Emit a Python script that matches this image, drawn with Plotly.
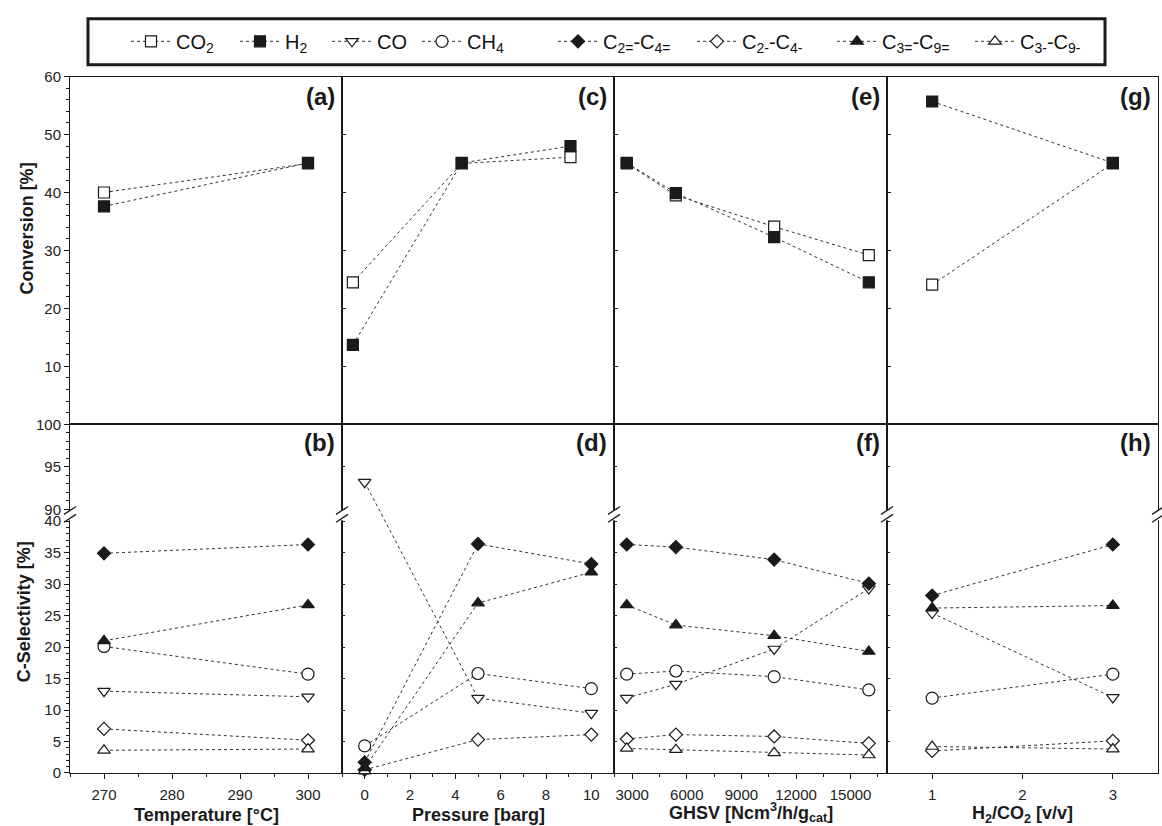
import plotly.graph_objects as go

W, H = 1162, 826
FONT = "Liberation Sans, Arial, Helvetica, sans-serif"

# ---------------- data ----------------
temperature = [270, 300]
pressure = [0, 5, 10]
ghsv = [2700, 5400, 10800, 16000]
ratio = [1, 3]

# conversion [%]
conv_CO2_T = [40.0, 45.0]
conv_H2_T = [37.6, 45.1]
conv_CO2_P = [24.5, 45.0, 46.1]
conv_H2_P = [13.7, 45.1, 48.0]
conv_CO2_G = [45.0, 39.5, 34.1, 29.2]
conv_H2_G = [45.1, 39.9, 32.3, 24.5]
conv_CO2_R = [24.1, 45.0]
conv_H2_R = [55.7, 45.1]

# C-selectivity [%]
sel_CO_T = [13.0, 12.1]
sel_CH4_T = [20.1, 15.7]
sel_C2o_T = [34.9, 36.3]
sel_C2p_T = [7.0, 5.2]
sel_C3o_T = [21.0, 26.7]
sel_C3p_T = [3.6, 3.8]

sel_CO_P = [93.2, 11.9, 9.5]
sel_CH4_P = [4.3, 15.8, 13.4]
sel_C2o_P = [1.7, 36.4, 33.2]
sel_C2p_P = [0.5, 5.3, 6.1]
sel_C3o_P = [0.8, 27.0, 31.9]
sel_C3p_P = [0.3, None, None]

sel_CO_G = [11.9, 14.1, 19.7, 29.3]
sel_CH4_G = [15.7, 16.2, 15.3, 13.2]
sel_C2o_G = [36.3, 35.9, 33.9, 30.1]
sel_C2p_G = [5.4, 6.1, 5.8, 4.7]
sel_C3o_G = [26.7, 23.5, 21.8, 19.3]
sel_C3p_G = [3.9, 3.7, 3.2, 2.85]

sel_CO_R = [25.4, 12.0]
sel_CH4_R = [11.9, 15.7]
sel_C2o_R = [28.2, 36.3]
sel_C2p_R = [3.5, 5.1]
sel_C3o_R = [26.2, 26.6]
sel_C3p_R = [4.2, 3.8]

series_names = ["CO<sub>2</sub>", "H<sub>2</sub>", "CO", "CH<sub>4</sub>",
                "C<sub>2=</sub>-C<sub>4=</sub>", "C<sub>2-</sub>-C<sub>4-</sub>",
                "C<sub>3=</sub>-C<sub>9=</sub>", "C<sub>3-</sub>-C<sub>9-</sub>"]
panel_labels = ["(a)", "(b)", "(c)", "(d)", "(e)", "(f)", "(g)", "(h)"]
x_titles = ["Temperature [°C]", "Pressure [barg]",
            "GHSV [Ncm<sup>3</sup>/h/g<sub>cat</sub>]", "H<sub>2</sub>/CO<sub>2</sub> [v/v]"]
ghsv_ticks = [3000, 6000, 9000, 12000, 15000]
conv_ticks = [10, 20, 30, 40, 50, 60]
sel_low_ticks = [0, 5, 10, 15, 20, 25, 30, 35, 40]
sel_up_ticks = [90, 95, 100]

# ---------------- styles / geometry ----------------
BLK = "#1a1a1a"
STY = {
    "CO<sub>2</sub>": dict(symbol="square", size=11, color="white"),
    "H<sub>2</sub>": dict(symbol="square", size=11, color=BLK),
    "CO": dict(symbol="triangle-down", size=11, color="white"),
    "CH<sub>4</sub>": dict(symbol="circle", size=12, color="white"),
    "C<sub>2=</sub>-C<sub>4=</sub>": dict(symbol="diamond", size=10, color=BLK),
    "C<sub>2-</sub>-C<sub>4-</sub>": dict(symbol="diamond", size=10, color="white"),
    "C<sub>3=</sub>-C<sub>9=</sub>": dict(symbol="triangle-up", size=11, color=BLK),
    "C<sub>3-</sub>-C<sub>9-</sub>": dict(symbol="triangle-up", size=11, color="white"),
}
legend_px = [146, 255, 347, 437, 573, 712, 852, 990]
title_top_px = [811, 811, 806, 809]

COLS = [(70, 342), (342, 614), (614, 887), (887, 1158)]
TOP = (69, 424)
UP = (424, 511)
LOW = (523, 780)
top_xr = [[265, 305], [-0.5, 12], [2000, 17000], [0.5, 3.5]]
bot_xr = [[265, 305], [-1, 11], [2000, 17000], [0.5, 3.5]]

low_ppu = (LOW[1] - LOW[0]) / 40.0
up_ppu = (UP[1] - UP[0]) / 10.0
gap = LOW[0] - UP[1]


def brk(v):
    """broken-axis scale: 0-40 lower segment, 90-100 upper segment"""
    if v is None:
        return None
    if v >= 90:
        return 40 + (gap + (v - 90) * up_ppu) / low_ppu
    return v


BOT_RANGE = [0, brk(100)]


def xd(c):
    return [c[0] / W, c[1] / W]


def yd(r):
    return [1 - r[1] / H, 1 - r[0] / H]


fig = go.Figure()
shown = set()


def line_style():
    return dict(color="#333", width=1, dash="3px,3px")


def add(name, x, y, xa, ya):
    st = STY[name]
    k = series_names.index(name)
    show = name not in shown
    shown.add(name)
    fig.add_trace(go.Scatter(
        x=x, y=y, xaxis=xa, yaxis=ya, mode="lines+markers", name=name,
        legendgroup=name, showlegend=show, legendrank=k + 1,
        legend="legend" if k == 0 else f"legend{k + 1}",
        line=line_style(), cliponaxis=False, connectgaps=True,
        marker=dict(symbol=st["symbol"], size=st["size"], color=st["color"],
                    line=dict(color=BLK, width=1.2)),
    ))


top_x = [temperature, pressure, ghsv, ratio]
top_co2 = [conv_CO2_T, conv_CO2_P, conv_CO2_G, conv_CO2_R]
top_h2 = [conv_H2_T, conv_H2_P, conv_H2_G, conv_H2_R]
for i in range(4):
    add(series_names[0], top_x[i], top_co2[i], f"x{i + 1}", f"y{i + 1}")
    add(series_names[1], top_x[i], top_h2[i], f"x{i + 1}", f"y{i + 1}")

sel = [
    [sel_CO_T, sel_CH4_T, sel_C2p_T, sel_C3p_T, sel_C3o_T, sel_C2o_T],
    [sel_CO_P, sel_CH4_P, sel_C2p_P, sel_C3p_P, sel_C3o_P, sel_C2o_P],
    [sel_CO_G, sel_CH4_G, sel_C2p_G, sel_C3p_G, sel_C3o_G, sel_C2o_G],
    [sel_CO_R, sel_CH4_R, sel_C2p_R, sel_C3p_R, sel_C3o_R, sel_C2o_R],
]
sel_order = ["CO", "CH<sub>4</sub>", "C<sub>2-</sub>-C<sub>4-</sub>", "C<sub>3-</sub>-C<sub>9-</sub>",
             "C<sub>3=</sub>-C<sub>9=</sub>", "C<sub>2=</sub>-C<sub>4=</sub>"]
for i in range(4):
    for name, vals in zip(sel_order, sel[i]):
        add(name, top_x[i], [brk(v) for v in vals], f"x{5 + i}", f"y{5 + i}")

# ---------------- axes ----------------
tickfont = dict(size=15, color="#222", family=FONT)


def axis(domain, rng, anchor, **kw):
    d = dict(domain=domain, range=rng, anchor=anchor, showline=True, linecolor=BLK,
             linewidth=1, showgrid=False, zeroline=False, ticks="", showticklabels=False,
             tickfont=tickfont, tickcolor=BLK, fixedrange=True, mirror=True,
             exponentformat="none", separatethousands=False)
    d.update(kw)
    return d


def minor(**kw):
    d = dict(ticks="outside", ticklen=3, tickcolor=BLK)
    d.update(kw)
    return d


sel_major = sel_low_ticks + sel_up_ticks
sel_minor = [v for v in range(0, 41) if v % 5] + [v for v in range(90, 101) if v % 5]
sel_major_v = [brk(v) for v in sel_major]
sel_minor_v = [brk(v) for v in sel_minor]

bot_ticks = [
    dict(tick0=0, dtick=10, minor=minor(dtick=5)),
    dict(tick0=0, dtick=2, minor=minor(dtick=1)),
    dict(tickmode="array", tickvals=ghsv_ticks, ticktext=[str(v) for v in ghsv_ticks],
         minor=minor(tick0=0, dtick=1500)),
    dict(tick0=0, dtick=1),
]

layout = {}
for i in range(4):
    c = COLS[i]
    # top row: conversion
    layout[f"xaxis{i + 1}"] = axis(xd(c), top_xr[i], f"y{i + 1}")
    if i == 0:
        ykw = dict(ticks="outside", ticklen=5, showticklabels=True, tickmode="array",
                   tickvals=conv_ticks, ticktext=[str(v) for v in conv_ticks],
                   minor=minor(tick0=0, dtick=2))
    else:
        ykw = dict(ticks="inside", ticklen=4, tickmode="array", tickvals=conv_ticks)
    layout[f"yaxis{i + 1}"] = axis(yd(TOP), [0, 60], f"x{i + 1}", **ykw)
    # bottom row: selectivity with broken axis
    layout[f"xaxis{5 + i}"] = axis(xd(c), bot_xr[i], f"y{5 + i}", ticks="outside", ticklen=5,
                                   showticklabels=True, ticklabelstandoff=3, **bot_ticks[i])
    if i == 0:
        bkw = dict(ticks="outside", ticklen=5, showticklabels=True, tickmode="array",
                   tickvals=sel_major_v, ticktext=[str(v) for v in sel_major],
                   minor=minor(tickmode="array", tickvals=sel_minor_v))
    else:
        bkw = dict(ticks="inside", ticklen=3, tickmode="array", tickvals=sel_major_v)
    layout[f"yaxis{5 + i}"] = axis([1 - LOW[1] / H, 1 - UP[0] / H], BOT_RANGE, f"x{5 + i}", **bkw)

# ---------------- legends ----------------
for k, px in enumerate(legend_px):
    key = "legend" if k == 0 else f"legend{k + 1}"
    layout[key] = dict(x=(px - 20) / W, y=1 - 33 / H, xanchor="left", yanchor="middle",
                       bgcolor="rgba(0,0,0,0)", borderwidth=0, orientation="h", itemwidth=40,
                       font=dict(size=20, family=FONT, color="#111"))

# ---------------- shapes ----------------
shapes = [dict(type="rect", xref="paper", yref="paper", x0=88 / W, x1=1105 / W,
               y0=1 - 57 / H, y1=1 - 10 / H, line=dict(color=BLK, width=3))]
for xb in [70, 342, 614, 887, 1158]:
    shapes.append(dict(type="rect", xref="paper", yref="paper", layer="above",
                       x0=(xb - 2) / W, x1=(xb + 2) / W,
                       y0=1 - (LOW[0] - 1) / H, y1=1 - (UP[1] + 1) / H,
                       fillcolor="white", line=dict(width=0)))
    for yb in [512, 520]:
        shapes.append(dict(type="line", xref="paper", yref="paper", layer="above",
                           x0=(xb - 6) / W, x1=(xb + 6) / W,
                           y0=1 - (yb + 4) / H, y1=1 - (yb - 4) / H,
                           line=dict(color=BLK, width=1.3)))

# ---------------- annotations ----------------
ann = []
for i in range(4):
    c = COLS[i]
    for lab, yc in ((panel_labels[2 * i], 89), (panel_labels[2 * i + 1], 443)):
        ann.append(dict(text=f"<b>{lab}</b>", x=(c[1] - 5) / W, y=1 - yc / H,
                        xanchor="right", yanchor="middle", showarrow=False,
                        font=dict(size=24, family=FONT, color=BLK), xref="paper", yref="paper"))
    ann.append(dict(text=f"<b>{x_titles[i]}</b>", x=(c[0] + c[1]) / 2 / W,
                    y=1 - title_top_px[i] / H,
                    xanchor="center", yanchor="top", showarrow=False,
                    font=dict(size=18, family=FONT, color=BLK), xref="paper", yref="paper"))
ann.append(dict(text="<b>Conversion [%]</b>", x=27 / W, y=1 - 224 / H, textangle=-90,
                xanchor="center", yanchor="middle", showarrow=False,
                font=dict(size=18, family=FONT, color=BLK), xref="paper", yref="paper"))
ann.append(dict(text="<b>C-Selectivity [%]</b>", x=24 / W, y=1 - 616 / H, textangle=-90,
                xanchor="center", yanchor="middle", showarrow=False,
                font=dict(size=18, family=FONT, color=BLK), xref="paper", yref="paper"))

fig.update_layout(
    width=W, height=H, autosize=False,
    margin=dict(l=0, r=0, t=0, b=0),
    paper_bgcolor="white", plot_bgcolor="white",
    font=dict(family=FONT, color=BLK),
    shapes=shapes, annotations=ann, showlegend=True,
    **layout,
)

fig.write_html("out.html")
